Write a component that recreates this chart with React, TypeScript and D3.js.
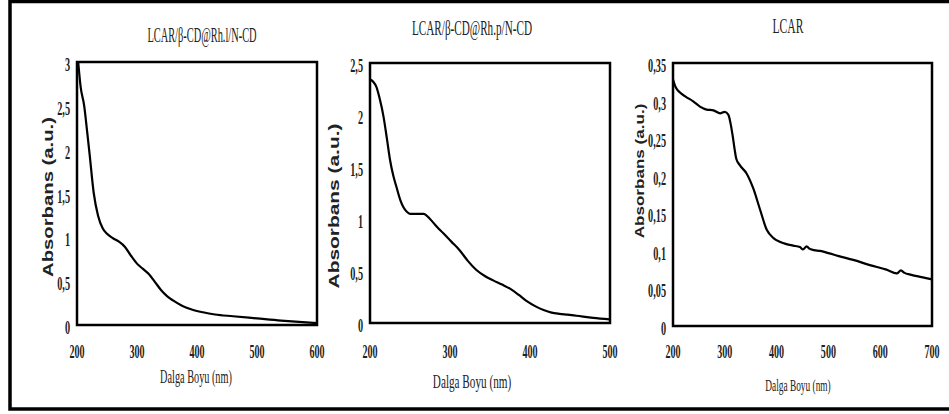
import React from 'react';
import * as d3 from 'd3';

// Panel 1: LCAR/β-CD@Rh.l/N-CD
const wave1 = [202, 206, 212, 217, 221, 228, 235, 243, 250, 260, 270, 280, 290, 300, 310, 320, 330, 340, 350, 360, 375, 390, 410, 430, 460, 500, 540, 570, 600];
const abs1 = [3.0, 2.72, 2.5, 2.2, 1.95, 1.5, 1.25, 1.1, 1.04, 0.99, 0.95, 0.89, 0.79, 0.7, 0.64, 0.58, 0.49, 0.4, 0.33, 0.28, 0.22, 0.18, 0.145, 0.12, 0.1, 0.075, 0.05, 0.035, 0.022];
const xTicks1 = [200, 300, 400, 500, 600];
const yTicks1 = [0, 0.5, 1, 1.5, 2, 2.5, 3];

// Panel 2: LCAR/β-CD@Rh.p/N-CD
const wave2 = [200, 204, 208, 212, 217, 221, 225, 229, 233, 238, 242, 246, 250, 258, 267, 275, 283, 292, 302, 312, 322, 333, 344, 354, 365, 375, 386, 396, 407, 417, 427, 437, 447, 458, 479, 500];
const abs2 = [2.34, 2.32, 2.27, 2.16, 1.98, 1.78, 1.57, 1.42, 1.31, 1.18, 1.11, 1.07, 1.05, 1.05, 1.05, 1.0, 0.93, 0.86, 0.78, 0.7, 0.6, 0.51, 0.45, 0.41, 0.37, 0.33, 0.27, 0.21, 0.16, 0.125, 0.1, 0.088, 0.08, 0.07, 0.05, 0.035];
const xTicks2 = [200, 300, 400, 500];
const yTicks2 = [0, 0.5, 1, 1.5, 2, 2.5];

// Panel 3: LCAR
const wave3 = [200, 205, 213, 225, 239, 252, 265, 278, 291, 300, 307, 311, 315, 319, 322, 329, 342, 355, 368, 381, 394, 406, 419, 432, 445, 451, 458, 463, 472, 484, 500, 520, 548, 580, 612, 632, 640, 646, 660, 680, 700];
const abs3 = [0.328, 0.318, 0.311, 0.305, 0.299, 0.292, 0.288, 0.287, 0.283, 0.285, 0.281, 0.27, 0.254, 0.235, 0.223, 0.214, 0.203, 0.183, 0.155, 0.128, 0.117, 0.112, 0.109, 0.107, 0.105, 0.102, 0.106, 0.103, 0.101, 0.1, 0.097, 0.093, 0.088, 0.081, 0.075, 0.07, 0.074, 0.071, 0.068, 0.065, 0.062];
const xTicks3 = [200, 300, 400, 500, 600, 700];
const yTicks3 = [0, 0.05, 0.1, 0.15, 0.2, 0.25, 0.3, 0.35];

const titles = ['LCAR/β-CD@Rh.l/N-CD', 'LCAR/β-CD@Rh.p/N-CD', 'LCAR'];

const fmt = d3.formatLocale({ decimal: ',', thousands: '.', grouping: [3], currency: ['', ''] }).format('~g');

const serif = '"Liberation Serif", "DejaVu Serif", serif';
const sans = '"Liberation Sans", Arial, sans-serif';

// the source picture is squeezed sideways, so every label is drawn narrow
const Squeezed: React.FC<{ x: number; y: number; sx: number; size: number; anchor: string; bold?: boolean; children: React.ReactNode }> =
  ({ x, y, sx, size, anchor, bold, children }) => (
    <text transform={`translate(${x},${y}) scale(${sx},1)`} textAnchor={anchor} fontFamily={serif}
      fontWeight={bold ? 'bold' : 'normal'} fontSize={size} fill="#222">{children}</text>
  );

interface PanelProps {
  wave: number[];
  abs: number[];
  xTicks: number[];
  yTicks: number[];
  box: { x0: number; x1: number; y0: number; y1: number };
  title: string;
  titleAt: [number, number, number];
  xLabelAt: [number, number, number];
  yLabelAt: [number, number, number];
  labelSize: number;
}

const Panel: React.FC<PanelProps> = (p) => {
  const { box } = p;
  const x = d3.scaleLinear().domain([p.xTicks[0], p.xTicks[p.xTicks.length - 1]]).range([box.x0, box.x1]);
  const y = d3.scaleLinear().domain([0, p.yTicks[p.yTicks.length - 1]]).range([box.y1, box.y0]);
  const pts = p.wave.map((w, i) => [w, p.abs[i]] as [number, number]);
  const line = d3.line<[number, number]>()
    .x(d => x(d[0]))
    .y(d => y(d[1]))
    .curve(d3.curveMonotoneX);

  return (
    <g>
      <Squeezed x={p.titleAt[0]} y={p.titleAt[1]} sx={p.titleAt[2]} size={20} anchor="middle">{p.title}</Squeezed>

      <path d={line(pts)!} fill="none" stroke="#000" strokeWidth={2.2} strokeLinejoin="round" />
      <rect x={box.x0} y={box.y0} width={box.x1 - box.x0} height={box.y1 - box.y0}
        fill="none" stroke="#000" strokeWidth={2.5} />

      {p.xTicks.map(t => (
        <Squeezed key={'x' + t} x={x(t)} y={358} sx={0.53} size={19} anchor="middle" bold>{fmt(t)}</Squeezed>
      ))}
      {p.yTicks.map(t => (
        <Squeezed key={'y' + t} x={box.x0 - 7} y={y(t) + 9} sx={0.54} size={19} anchor="end" bold>{fmt(t)}</Squeezed>
      ))}

      <Squeezed x={p.xLabelAt[0]} y={p.xLabelAt[1]} sx={p.xLabelAt[2]} size={p.labelSize} anchor="middle">Dalga Boyu (nm)</Squeezed>
      <text transform={`translate(${p.yLabelAt[0]},${p.yLabelAt[1]}) rotate(-90) scale(1,0.72)`} textAnchor="middle"
        fontFamily={sans} fontWeight="bold" fontSize={p.yLabelAt[2]} fill="#222">Absorbans (a.u.)</text>
    </g>
  );
};

const App: React.FC = () => {
  return (
    <svg width={949} height={414} style={{ position: 'absolute', left: 0, top: 0, background: '#fff' }}>
      <rect x={10} y={1.5} width={960} height={407.5} fill="none" stroke="#000" strokeWidth={3.5} />
      <Panel wave={wave1} abs={abs1} xTicks={xTicks1} yTicks={yTicks1}
        box={{ x0: 77, x1: 317, y0: 62, y1: 325 }} title={titles[0]} titleAt={[202, 42, 0.52]}
        xLabelAt={[196, 383, 0.57]} yLabelAt={[53, 197, 20.3]} labelSize={18} />
      <Panel wave={wave2} abs={abs2} xTicks={xTicks2} yTicks={yTicks2}
        box={{ x0: 370, x1: 610, y0: 63, y1: 323 }} title={titles[1]} titleAt={[472, 35, 0.56]}
        xLabelAt={[472, 388, 0.59]} yLabelAt={[339, 206, 20.9]} labelSize={19} />
      <Panel wave={wave3} abs={abs3} xTicks={xTicks3} yTicks={yTicks3}
        box={{ x0: 673, x1: 932, y0: 63, y1: 326 }} title={titles[2]} titleAt={[788, 33, 0.58]}
        xLabelAt={[798, 391, 0.55]} yLabelAt={[644, 171, 17.1]} labelSize={17} />
    </svg>
  );
};

export default App;
